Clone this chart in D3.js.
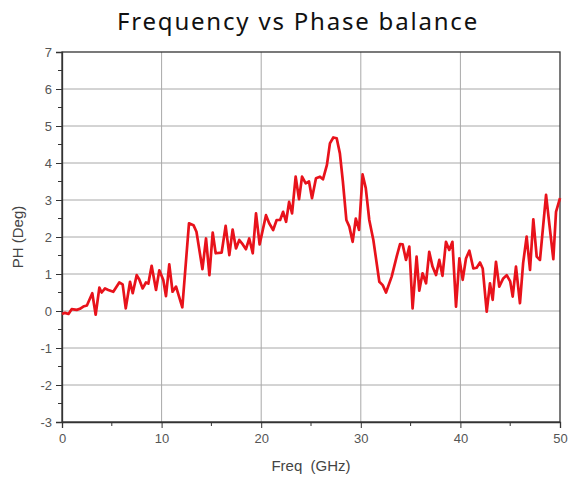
<!DOCTYPE html>
<html>
<head>
<meta charset="utf-8">
<script src="https://cdn.jsdelivr.net/npm/d3@7"></script>
<style>
  body { margin: 0; background: #fff; }
  svg { display: block; }
</style>
</head>
<body>
<svg id="chart" width="569" height="479"></svg>
<script>
// data
const freq = [0, 0.3, 0.65, 0.97, 1.48, 1.8, 2.14, 2.5, 3.04, 3.38, 3.75, 3.98, 4.32, 4.65, 5.15, 5.75, 6.09, 6.4, 6.83, 7.1,
  7.5, 7.76, 8.1, 8.43, 8.67, 9.0, 9.44, 9.77, 10.17, 10.44, 10.77, 11.1, 11.45, 12.08, 12.75, 13.2, 13.5, 14.1, 14.46, 14.8,
  15.13, 15.43, 16.03, 16.43, 16.8, 17.13, 17.47, 17.8, 18.15, 18.47, 18.8, 19.15, 19.48, 19.84, 20.48, 20.8, 21.2, 21.55, 21.9, 22.2,
  22.5, 22.8, 23.1, 23.46, 23.8, 24.1, 24.47, 24.8, 25.1, 25.5, 25.9, 26.2, 26.6, 26.9, 27.24, 27.58, 27.9, 28.2, 28.55, 28.85,
  29.18, 29.5, 29.82, 30.18, 30.5, 30.85, 31.26, 31.86, 32.2, 32.53, 33.1, 33.6, 33.94, 34.2, 34.54, 34.87, 35.2, 35.6, 35.87, 36.2,
  36.55, 36.87, 37.2, 37.55, 37.88, 38.2, 38.55, 38.88, 39.2, 39.56, 39.9, 40.23, 40.56, 40.9, 41.3, 41.63, 41.97, 42.24, 42.64, 42.97,
  43.24, 43.57, 43.9, 44.3, 44.65, 45.0, 45.25, 45.58, 45.98, 46.3, 46.65, 46.99, 47.32, 47.66, 47.99, 48.6, 48.95, 49.33, 49.6, 50]
const phase = [-0.08, -0.05, -0.08, 0.05, 0.03, 0.06, 0.12, 0.15, 0.48, -0.1, 0.63, 0.5, 0.61, 0.57, 0.52, 0.77, 0.72, 0.07, 0.79, 0.48,
  0.97, 0.85, 0.61, 0.77, 0.74, 1.22, 0.57, 1.1, 0.84, 0.4, 1.26, 0.52, 0.66, 0.1, 2.37, 2.32, 2.14, 1.13, 1.96, 0.97,
  2.12, 1.56, 1.58, 2.3, 1.51, 2.2, 1.69, 1.92, 1.8, 1.67, 1.96, 1.56, 2.64, 1.8, 2.59, 2.37, 2.19, 2.46, 2.46, 2.68,
  2.41, 2.95, 2.64, 3.63, 3.02, 3.63, 3.45, 3.5, 3.05, 3.59, 3.63, 3.56, 3.95, 4.53, 4.69, 4.67, 4.26, 3.5, 2.46, 2.28,
  1.87, 2.5, 2.19, 3.69, 3.32, 2.46, 1.92, 0.79, 0.7, 0.5, 0.93, 1.47, 1.81, 1.8, 1.38, 1.74, 0.07, 1.47, 0.55, 1.02,
  0.75, 1.6, 1.2, 0.97, 1.38, 0.95, 1.87, 1.65, 1.87, 0.12, 1.42, 0.84, 1.42, 1.63, 1.15, 1.17, 1.31, 1.15, -0.02, 0.75,
  0.3, 1.33, 0.66, 0.88, 0.97, 0.8, 0.39, 1.2, 0.21, 1.3, 2.01, 1.11, 2.48, 1.47, 1.38, 3.14, 2.3, 1.4, 2.68, 3.05]
const xTicks = [0, 10, 20, 30, 40, 50]
const yTicks = [-3, -2, -1, 0, 1, 2, 3, 4, 5, 6, 7]
const xMinor = [5, 15, 25, 35, 45]
const yMinor = [-2.5, -1.5, -0.5, 0.5, 1.5, 2.5, 3.5, 4.5, 5.5, 6.5]

const svg = d3.select("#chart")
const margin = {left: 62, right: 9, top: 52, bottom: 57}
const W = 569, H = 479

const x = d3.scaleLinear().domain([0, 50]).range([margin.left, W - margin.right])
const y = d3.scaleLinear().domain([-3, 7]).range([H - margin.bottom, margin.top])

// grid
svg.append("g")
  .selectAll("line.gx")
  .data(xTicks.slice(1, -1))
  .join("line")
  .attr("x1", d => x(d)).attr("x2", d => x(d))
  .attr("y1", y(-3)).attr("y2", y(7))
  .attr("stroke", "#a8a8a8").attr("stroke-width", 1)
svg.append("g")
  .selectAll("line.gy")
  .data(yTicks.slice(1, -1))
  .join("line")
  .attr("x1", x(0)).attr("x2", x(50))
  .attr("y1", d => y(d)).attr("y2", d => y(d))
  .attr("stroke", "#a8a8a8").attr("stroke-width", 1)

// frame (top + right)
svg.append("rect")
  .attr("x", x(0)).attr("y", y(7))
  .attr("width", x(50) - x(0)).attr("height", y(-3) - y(7))
  .attr("fill", "none").attr("stroke", "#333").attr("stroke-width", 1.3)

// plain hyphen for negatives, like the original
const fmt = d => String(d)

// axes
const xAxis = svg.append("g")
  .attr("transform", `translate(0,${y(-3)})`)
  .call(d3.axisBottom(x).tickValues(xTicks).tickFormat(fmt).tickSize(6).tickPadding(6))
xAxis.append("g").selectAll("line")
  .data(xMinor).join("line")
  .attr("x1", d => x(d)).attr("x2", d => x(d))
  .attr("y1", 0).attr("y2", 4).attr("stroke", "#333")

const yAxis = svg.append("g")
  .attr("transform", `translate(${x(0)},0)`)
  .call(d3.axisLeft(y).tickValues(yTicks).tickFormat(fmt).tickSize(6).tickPadding(4))
yAxis.append("g").selectAll("line")
  .data(yMinor).join("line")
  .attr("y1", d => y(d)).attr("y2", d => y(d))
  .attr("x1", 0).attr("x2", -4).attr("stroke", "#333")

svg.selectAll(".domain").attr("stroke", "#333").attr("stroke-width", 1.3)
svg.selectAll(".tick line").attr("stroke", "#333")
svg.selectAll(".tick text")
  .attr("font-family", "Liberation Sans, Arial, sans-serif")
  .attr("font-size", 13)
  .attr("fill", "#555")

// line
const line = d3.line()
  .x((d, i) => x(freq[i]))
  .y(d => y(d))
svg.append("path")
  .datum(phase)
  .attr("d", line)
  .attr("fill", "none")
  .attr("stroke", "#e8121b")
  .attr("stroke-width", 2.7)
  .attr("stroke-linejoin", "round")

// labels
svg.append("text")
  .attr("x", 298).attr("y", 30)
  .attr("text-anchor", "middle")
  .attr("font-family", "Noto Sans, sans-serif")
  .attr("font-size", 24)
  .attr("letter-spacing", 1.8)
  .attr("fill", "#111")
  .text("Frequency vs Phase balance")

svg.append("text")
  .attr("x", x(25)).attr("y", 471)
  .attr("text-anchor", "middle")
  .attr("font-family", "Liberation Sans, Arial, sans-serif")
  .attr("font-size", 15)
  .attr("fill", "#444")
  .style("white-space", "pre")
  .text("Freq  (GHz)")

svg.append("text")
  .attr("transform", `translate(23,${y(2)}) rotate(-90)`)
  .attr("text-anchor", "middle")
  .attr("font-family", "Liberation Sans, Arial, sans-serif")
  .attr("font-size", 15)
  .attr("fill", "#444")
  .text("PH (Deg)")
</script>
</body>
</html>
